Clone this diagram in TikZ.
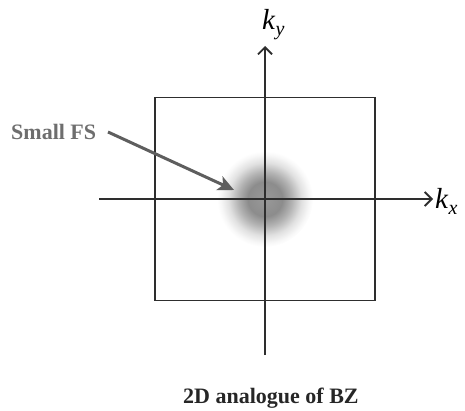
\documentclass[tikz,border=0pt]{standalone}
\usepackage{fontspec}
\setmainfont{Liberation Serif}
\usetikzlibrary{arrows.meta}
\definecolor{axisgray}{HTML}{2E2E2E}
\definecolor{labelgray}{HTML}{6E6E6E}
\definecolor{pointergray}{HTML}{5E5E5E}
\pgfdeclareradialshading{fsblur}{\pgfpoint{0bp}{0bp}}{%
  color(0bp)=(black!40); color(9bp)=(black!45); color(14bp)=(black!30);
  color(19bp)=(black!12); color(23bp)=(black!3); color(25bp)=(white); color(50bp)=(white)}
\tikzset{
  axisline/.style={draw=axisgray, line width=1.8pt, -{Straight Barb[length=7pt,width=14pt,line width=1.8pt]}},
  bzbox/.style={draw=axisgray, line width=1.8pt},
  pointer/.style={draw=pointergray, line width=3pt, -{Stealth[length=16pt,width=15pt,inset=4pt]}},
  klabel/.style={inner sep=0pt, anchor=base west, font=\fontsize{29}{32}\selectfont\itshape},
  fslabel/.style={inner sep=0pt, anchor=base west, text=labelgray, font=\fontsize{22}{26}\selectfont\bfseries},
  caption/.style={inner sep=0pt, anchor=base west, text=black!85, font=\fontsize{22}{26}\selectfont\bfseries}
}
\begin{document}
\begin{tikzpicture}[x=1pt,y=1pt]
\useasboundingbox (0,0) rectangle (465,410);
% blurred small Fermi surface
\shade[shading=fsblur] (265,211) circle (48);
% Brillouin zone square
\draw[bzbox] (155,312.5) rectangle (375,109.5);
% axes
\coordinate (xs) at (99,211);
\coordinate (xe) at (433,211);
\coordinate (ys) at (265,55);
\coordinate (ye) at (265,364);
\draw[axisline] (xs) -- (xe);
\draw[axisline] (ys) -- (ye);
% labels
\node[klabel] (ky) at (262,380) {k\kern0.5pt\raisebox{-6pt}{\fontsize{20}{22}\selectfont y}};
\node[klabel] (kx) at (435,202) {k\kern0.5pt\raisebox{-6pt}{\fontsize{20}{22}\selectfont x}};
\node[fslabel] (fs) at (11,270) {Small FS};
\coordinate (tip) at (234,220);
\draw[pointer] (108,278) -- (tip);
\node[caption] (cap) at (183,7) {2D analogue of BZ};
\end{tikzpicture}
\end{document}
